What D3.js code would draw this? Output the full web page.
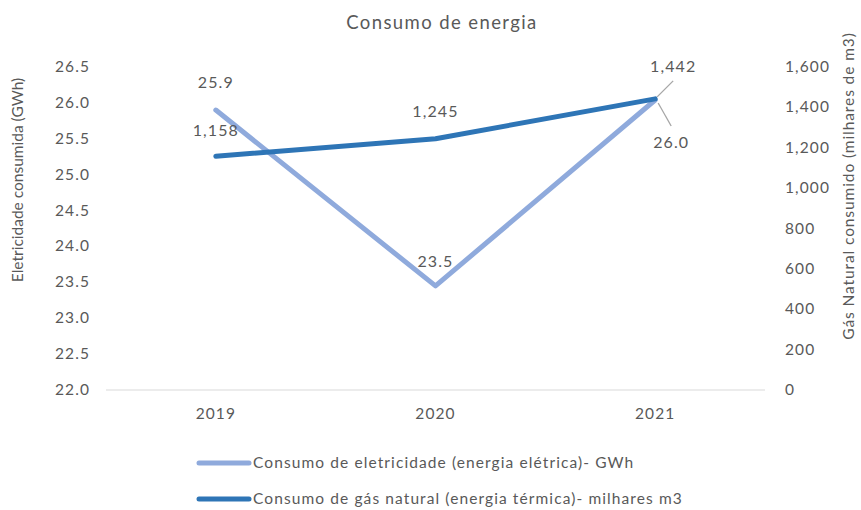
<!DOCTYPE html>
<html><head><meta charset="utf-8">
<script src="https://cdn.jsdelivr.net/npm/d3@7"></script>
<style>body{margin:0;background:#fff}text{font-family:Lato,"Open Sans",sans-serif;fill:#595959}</style>
</head><body><svg id="c" width="861" height="510"></svg>
<script>
const years = ["2019","2020","2021"];
const eletricidade = [25.9, 23.45, 26.04];
const gas = [1158, 1245, 1442];
const eletLabels = ["25.9","23.5","26.0"];
const gasLabels = ["1,158","1,245","1,442"];
const leftTicks = [22,22.5,23,23.5,24,24.5,25,25.5,26,26.5];
const rightTicks = [0,200,400,600,800,1000,1200,1400,1600];

const svg = d3.select("#c");
const x = d3.scaleBand().domain(years).range([106, 765]);
const yL = d3.scaleLinear().domain([22, 26.5]).range([390, 67]);
const yR = d3.scaleLinear().domain([0, 1600]).range([390, 67]);
const cx = d => x(d) + x.bandwidth()/2;
const cElet = "#8FAADC", cGas = "#2E75B6";
const LS = "1.1px";

svg.append("text").attr("x", 442).attr("y", 29).attr("text-anchor","middle").attr("font-size",18.5).attr("letter-spacing","1.4px").text("Consumo de energia");

svg.append("line").attr("x1",106).attr("x2",765).attr("y1",390).attr("y2",390).attr("stroke","#d9d9d9").attr("stroke-width",1);

svg.selectAll(".lt").data(leftTicks).join("text").attr("x",90).attr("y",d=>yL(d)+5).attr("text-anchor","end").attr("font-size",15.5).attr("letter-spacing",LS).text(d=>d3.format(".1f")(d));
svg.selectAll(".rt").data(rightTicks).join("text").attr("x",785).attr("y",d=>yR(d)+5).attr("text-anchor","start").attr("font-size",15.5).attr("letter-spacing",LS).text(d=>d3.format(",")(d));
svg.selectAll(".xt").data(years).join("text").attr("x",d=>cx(d)).attr("y",419).attr("text-anchor","middle").attr("font-size",15.5).attr("letter-spacing",LS).text(d=>d);

svg.append("text").attr("transform","translate(23,180) rotate(-90)").attr("text-anchor","middle").attr("font-size",15.5).text("Eletricidade consumida (GWh)");
svg.append("text").attr("transform","translate(854,186) rotate(-90)").attr("text-anchor","middle").attr("font-size",15.5).attr("letter-spacing","0.9px").text("Gás Natural consumido (milhares de m3)");

const lineE = d3.line().x((d,i)=>cx(years[i])).y(d=>yL(d));
const lineG = d3.line().x((d,i)=>cx(years[i])).y(d=>yR(d));
svg.append("path").attr("d",lineE(eletricidade)).attr("fill","none").attr("stroke",cElet).attr("stroke-width",5).attr("stroke-linecap","round").attr("stroke-linejoin","round");
svg.append("path").attr("d",lineG(gas)).attr("fill","none").attr("stroke",cGas).attr("stroke-width",5).attr("stroke-linecap","round").attr("stroke-linejoin","round");

// leader lines for 2021 labels
svg.append("line").attr("x1",cx("2021")+2).attr("y1",yR(gas[2])-2).attr("x2",cx("2021")+18).attr("y2",yR(gas[2])-18).attr("stroke","#a6a6a6").attr("stroke-width",1.3);
svg.append("line").attr("x1",cx("2021")+3).attr("y1",yL(eletricidade[2])+3).attr("x2",cx("2021")+16).attr("y2",yL(eletricidade[2])+26).attr("stroke","#a6a6a6").attr("stroke-width",1.3);

// data labels
const eOff = [[0,-22],[0,-19],[16,48]];
const gOff = [[0,-20],[0,-22],[18,-27]];
eletricidade.forEach((v,i)=>{
  svg.append("text").attr("x",cx(years[i])+eOff[i][0]).attr("y",yL(v)+eOff[i][1]).attr("text-anchor","middle").attr("font-size",16).attr("letter-spacing",LS).text(eletLabels[i]);
});
gas.forEach((v,i)=>{
  svg.append("text").attr("x",cx(years[i])+gOff[i][0]).attr("y",yR(v)+gOff[i][1]).attr("text-anchor","middle").attr("font-size",16).attr("letter-spacing",LS).text(gasLabels[i]);
});

// legend
const legend = [["Consumo de eletricidade (energia elétrica)- GWh", cElet],["Consumo de gás natural (energia térmica)- milhares m3", cGas]];
legend.forEach((l,i)=>{
  const y = 463 + i*36;
  svg.append("line").attr("x1",199).attr("x2",249).attr("y1",y).attr("y2",y).attr("stroke",l[1]).attr("stroke-width",5).attr("stroke-linecap","round");
  svg.append("text").attr("x",253).attr("y",y+5).attr("font-size",15.5).attr("letter-spacing",LS).text(l[0]);
});
</script></body></html>
